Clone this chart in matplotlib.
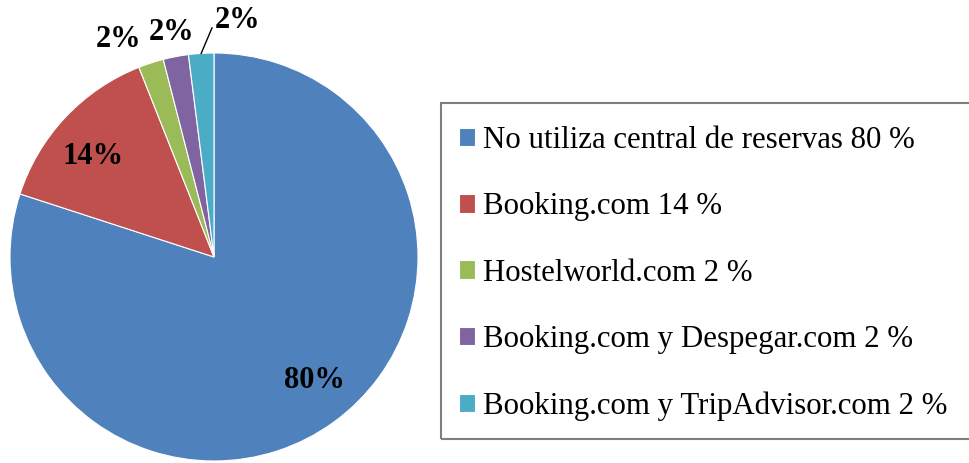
import numpy as np
import matplotlib
matplotlib.use("Agg")
import matplotlib.pyplot as plt
from matplotlib.patches import Rectangle

categories = ["No utiliza central de reservas 80 %", "Booking.com 14 %", "Hostelworld.com 2 %",
              "Booking.com y Despegar.com 2 %", "Booking.com y TripAdvisor.com 2 %"]
values = [80, 14, 2, 2, 2]
pct_labels = ["80%", "14%", "2%", "2%", "2%"]
colors = ["#4F81BD", "#C0504D", "#9BBB59", "#8064A2", "#4BACC6"]

plt.rcParams['font.family'] = ['Liberation Serif', 'DejaVu Serif']

W, H = 969, 463
fig = plt.figure(figsize=(W / 100, H / 100), dpi=100)
cx, cy, r = 214, 257, 204
ax = fig.add_axes([(cx - r) / W, (H - cy - r) / H, 2 * r / W, 2 * r / H])
wedges, _ = ax.pie(values, colors=colors, startangle=90, counterclock=False,
                   wedgeprops=dict(edgecolor="white", linewidth=0.8), radius=1)
ax.set_xlim(-1, 1)
ax.set_ylim(-1, 1)
ax.set_aspect("equal")

# label placement (distance from centre, angular offset in degrees)
dists = [0.78, 0.77, 1.163, 1.12, 1.167]
offs = [3, 3.5, 5.6, 0, -9.2]
for w, lab, d, o in zip(wedges, pct_labels, dists, offs):
    mid = np.deg2rad((w.theta1 + w.theta2) / 2 + o)
    x, y = d * np.cos(mid), d * np.sin(mid)
    ax.text(x, y, lab, ha="center", va="center", fontsize=22, fontweight="bold", clip_on=False)

# leader line for last slice
w = wedges[-1]
mid = np.deg2rad((w.theta1 + w.theta2) / 2)
end = np.deg2rad(90.5)
ax.plot([np.cos(mid), 1.123 * np.cos(end)], [np.sin(mid), 1.123 * np.sin(end)],
        color="black", lw=1, clip_on=False)

leg = fig.legend(wedges, categories, loc="upper left",
                 bbox_to_anchor=(440 / W, 1 - 107.5 / H),
                 fontsize=22.2, frameon=False,
                 handlelength=0.55, handleheight=0.55, handletextpad=0.25,
                 labelspacing=1.21, borderpad=0.6, borderaxespad=0)

fig.add_artist(Rectangle((441 / W, 1 - 439 / H), 540 / W, 336 / H, transform=fig.transFigure,
                         fill=False, edgecolor="#7f7f7f", linewidth=1.5, clip_on=False))

fig.savefig("out.png", dpi=100)
